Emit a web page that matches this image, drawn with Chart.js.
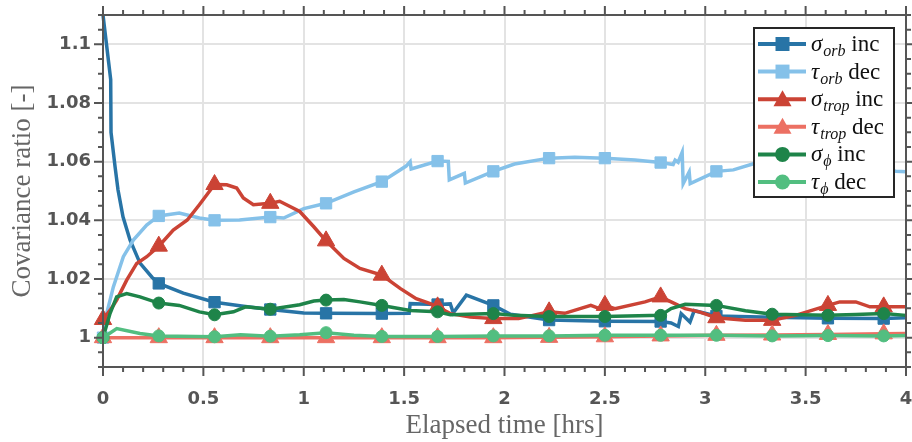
<!DOCTYPE html>
<html>
<head>
<meta charset="utf-8">
<script src="https://cdn.jsdelivr.net/npm/chart.js@4.4.1/dist/chart.umd.min.js"></script>
<style>
html,body{margin:0;padding:0;background:#fff;}
#wrap{width:912px;height:442px;}
</style>
</head>
<body>
<div id="wrap"><canvas id="c" width="912" height="442"></canvas></div>
<script>
// ---------- data ----------
const markerTimes = [0, 0.2778, 0.5556, 0.8333, 1.1111, 1.3889, 1.6667, 1.9444, 2.2222, 2.5, 2.7778, 3.0556, 3.3333, 3.6111, 3.8889];

const xTicks = [0, 0.5, 1, 1.5, 2, 2.5, 3, 3.5, 4];
const xTickLabels = ['0', '0.5', '1', '1.5', '2', '2.5', '3', '3.5', '4'];
const yTicks = [1, 1.02, 1.04, 1.06, 1.08, 1.1];
const yTickLabels = ['1', '1.02', '1.04', '1.06', '1.08', '1.1'];

// sigma_orb inc
const orbIncT = [0, 0.0383, 0.040, 0.060, 0.0747, 0.0996, 0.1345, 0.1843, 0.244, 0.2778, 0.40, 0.5556, 0.70, 0.8333, 1.0, 1.1111, 1.3889, 1.525, 1.530, 1.6667, 1.73, 1.745, 1.81, 1.9444, 2.03, 2.2222, 2.5, 2.7778, 2.83, 2.866, 2.88, 2.924, 2.945, 3.0556, 3.3333, 3.6111, 3.8889, 4.0];
const orbIncV = [1.110, 1.088, 1.070, 1.0583, 1.0504, 1.0412, 1.0333, 1.0254, 1.0206, 1.0185, 1.0152, 1.0121, 1.0107, 1.0096, 1.0084, 1.0083, 1.0082, 1.0083, 1.0116, 1.0113, 1.0115, 1.0085, 1.0145, 1.0110, 1.0080, 1.0060, 1.0056, 1.0055, 1.0050, 1.0038, 1.0082, 1.0053, 1.0092, 1.0074, 1.0070, 1.0066, 1.0065, 1.0068];

// tau_orb dec
const orbDecT = [0, 0.0183, 0.0515, 0.1013, 0.1511, 0.2175, 0.2778, 0.38, 0.48, 0.5556, 0.68, 0.8333, 0.90, 1.0, 1.1111, 1.25, 1.3889, 1.51, 1.53, 1.535, 1.6667, 1.72, 1.725, 1.80, 1.805, 1.9444, 2.05, 2.2222, 2.35, 2.5, 2.65, 2.7778, 2.84, 2.85, 2.865, 2.885, 2.89, 2.92, 2.925, 3.0556, 3.14, 3.24, 3.3333, 3.6111, 3.8889, 3.95, 4.0];
const orbDecV = [1.000, 1.0082, 1.0173, 1.0276, 1.0333, 1.0384, 1.0415, 1.0425, 1.0408, 1.0400, 1.0401, 1.0411, 1.0408, 1.0440, 1.0458, 1.0497, 1.0532, 1.0585, 1.0600, 1.0575, 1.0602, 1.0601, 1.0538, 1.0560, 1.0527, 1.0567, 1.0592, 1.0612, 1.0615, 1.0612, 1.0606, 1.0597, 1.0590, 1.0605, 1.0598, 1.0632, 1.0525, 1.0565, 1.0525, 1.0567, 1.0572, 1.0593, 1.0600, 1.0590, 1.0572, 1.0567, 1.0566];

// sigma_trop inc
const tropIncT = [0, 0.035, 0.068, 0.118, 0.168, 0.218, 0.2778, 0.35, 0.42, 0.48, 0.5556, 0.6163, 0.666, 0.699, 0.749, 0.8333, 0.88, 0.98, 1.05, 1.1111, 1.20, 1.28, 1.3889, 1.48, 1.56, 1.63, 1.6667, 1.73, 1.83, 1.9444, 2.07, 2.2222, 2.30, 2.43, 2.47, 2.5, 2.55, 2.70, 2.7778, 2.83, 2.90, 2.97, 3.0556, 3.20, 3.3333, 3.45, 3.6111, 3.67, 3.75, 3.82, 3.8889, 4.0];
const tropIncV = [1.0062, 1.0093, 1.0128, 1.0196, 1.0253, 1.0276, 1.0312, 1.0367, 1.0401, 1.0453, 1.0522, 1.0521, 1.0510, 1.0476, 1.0453, 1.0458, 1.0465, 1.0430, 1.0378, 1.0330, 1.0270, 1.0236, 1.0213, 1.0168, 1.0133, 1.0116, 1.0105, 1.0082, 1.0070, 1.0065, 1.0065, 1.0088, 1.0083, 1.0110, 1.0100, 1.0110, 1.0099, 1.0122, 1.0139, 1.0122, 1.0099, 1.0088, 1.0068, 1.0059, 1.0059, 1.0076, 1.0110, 1.0122, 1.0122, 1.0105, 1.0105, 1.0105];

// tau_trop dec
const tropDecT = [0, 0.2778, 0.5556, 0.8333, 1.1111, 1.3889, 1.6667, 1.9444, 2.2222, 2.5, 2.7778, 3.0556, 3.3333, 3.6111, 3.8889, 4.0];
const tropDecV = [1.0000, 1.0000, 1.0000, 1.0000, 1.0000, 1.0000, 1.0000, 1.0000, 1.0001, 1.0003, 1.0006, 1.0008, 1.0009, 1.0011, 1.0013, 1.0014];

// sigma_phi inc
const phiIncT = [0, 0.0349, 0.0681, 0.1179, 0.1843, 0.2778, 0.38, 0.48, 0.5556, 0.65, 0.71, 0.8333, 0.98, 1.05, 1.1111, 1.20, 1.28, 1.3889, 1.53, 1.6667, 1.73, 1.9444, 2.05, 2.2222, 2.5, 2.7778, 2.83, 2.90, 3.0556, 3.20, 3.3333, 3.6111, 3.75, 3.8889, 4.0];
const phiIncV = [1.0000, 1.0082, 1.0139, 1.0150, 1.0139, 1.0118, 1.0110, 1.0088, 1.0078, 1.0088, 1.0105, 1.0097, 1.0112, 1.0125, 1.0128, 1.0130, 1.0122, 1.0110, 1.0093, 1.0088, 1.0078, 1.0082, 1.0076, 1.0072, 1.0072, 1.0076, 1.0099, 1.0114, 1.0110, 1.0092, 1.0080, 1.0076, 1.0079, 1.0082, 1.0076];

// tau_phi dec
const phiDecT = [0, 0.0685, 0.1843, 0.2778, 0.5556, 0.6850, 0.8333, 0.98, 1.1111, 1.25, 1.3889, 1.6667, 1.9444, 2.2222, 2.5, 2.7778, 3.0556, 3.3333, 3.6111, 3.8889, 4.0];
const phiDecV = [1.0000, 1.0031, 1.0014, 1.0006, 1.0003, 1.0010, 1.0005, 1.0010, 1.0017, 1.0008, 1.0004, 1.0004, 1.0006, 1.0006, 1.0008, 1.0008, 1.0008, 1.0006, 1.0007, 1.0006, 1.0007];

const X_MIN = 0, X_MAX = 4, Y_MIN = 0.99, Y_MAX = 1.11;

// ---------- styles ----------
const series = [
  {greek: 'σ', sub: 'orb', word: 'inc', t: orbIncT, v: orbIncV, color: '#2874A6', style: 'rect', r: 8},
  {greek: 'τ', sub: 'orb', word: 'dec', t: orbDecT, v: orbDecV, color: '#85C1E9', style: 'rect', r: 8},
  {greek: 'σ', sub: 'trop', word: 'inc', t: tropIncT, v: tropIncV, color: '#CB4335', style: 'triangle', r: 10},
  {greek: 'τ', sub: 'trop', word: 'dec', t: tropDecT, v: tropDecV, color: '#EC7063', style: 'triangle', r: 10},
  {greek: 'σ', sub: 'ϕ', word: 'inc', t: phiIncT, v: phiIncV, color: '#1E8449', style: 'circle', r: 6},
  {greek: 'τ', sub: 'ϕ', word: 'dec', t: phiDecT, v: phiDecV, color: '#52BE80', style: 'circle', r: 6}
];

function isMarker(p) {
  if (!p) return false;
  if (p.y >= Y_MAX || p.y <= Y_MIN) return false;
  return markerTimes.some(m => Math.abs(m - p.x) < 1e-3);
}

const datasets = series.map((s, i) => ({
  label: s.greek + s.sub + ' ' + s.word,
  data: s.t.map((t, k) => ({x: t, y: s.v[k]})),
  borderColor: s.color,
  backgroundColor: s.color,
  borderWidth: 3.5,
  pointStyle: s.style,
  pointBackgroundColor: s.color,
  pointBorderColor: s.color,
  pointBorderWidth: 1,
  pointRadius: ctx => isMarker(ctx.raw) ? s.r : 0,
  pointHoverRadius: 0,
  tension: 0,
  fill: false,
  clip: 12,
  order: series.length - i
}));

// ---------- plugins ----------
const boxPlugin = {
  id: 'boxAndLegend',
  afterDatasetsDraw(chart) {
    const {ctx, chartArea: a, scales: {x, y}} = chart;
    ctx.save();
    // axis box
    ctx.strokeStyle = '#555555';
    ctx.lineWidth = 2;
    ctx.strokeRect(a.left, a.top, a.right - a.left, a.bottom - a.top);
    // ticks (outward on all four sides)
    ctx.beginPath();
    for (let k = 0; k <= 40; k++) {
      const v = k * 0.1;
      const px = x.getPixelForValue(v);
      const len = (k % 5 === 0) ? 9 : 5;
      ctx.moveTo(px, a.bottom); ctx.lineTo(px, a.bottom + len);
      ctx.moveTo(px, a.top); ctx.lineTo(px, a.top - len);
    }
    for (let k = 0; k <= 24; k++) {
      const v = 0.99 + k * 0.005;
      const py = y.getPixelForValue(v);
      const major = (k % 4 === 2);
      const len = major ? 9 : 5;
      ctx.moveTo(a.left, py); ctx.lineTo(a.left - len, py);
      ctx.moveTo(a.right, py); ctx.lineTo(a.right + len, py);
    }
    ctx.stroke();

    // legend
    const w = 140, h = 169;
    const L = a.right - 12 - w, T = a.top + 13;
    ctx.fillStyle = '#ffffff';
    ctx.fillRect(L, T, w, h);
    ctx.strokeStyle = '#262626';
    ctx.lineWidth = 2;
    ctx.strokeRect(L, T, w, h);
    series.forEach((s, i) => {
      const cy = T + 16 + i * 27.6;
      ctx.strokeStyle = s.color;
      ctx.lineWidth = 4;
      ctx.beginPath();
      ctx.moveTo(L + 4, cy); ctx.lineTo(L + 52, cy);
      ctx.stroke();
      const mx = L + 28.5;
      ctx.fillStyle = s.color;
      ctx.beginPath();
      if (s.style === 'rect') {
        ctx.rect(mx - 7, cy - 7, 14, 14);
      } else if (s.style === 'triangle') {
        ctx.moveTo(mx, cy - 9); ctx.lineTo(mx + 9, cy + 7); ctx.lineTo(mx - 9, cy + 7); ctx.closePath();
      } else {
        ctx.arc(mx, cy, 7.5, 0, Math.PI * 2);
      }
      ctx.fill();
      // text
      ctx.fillStyle = '#111111';
      ctx.textBaseline = 'alphabetic';
      ctx.textAlign = 'left';
      let tx = L + 57;
      const base = cy + 7;
      ctx.font = 'italic 23px "Liberation Serif", serif';
      ctx.fillText(s.greek, tx, base);
      tx += ctx.measureText(s.greek).width + 1;
      ctx.font = 'italic 16px "Liberation Serif", serif';
      ctx.fillText(s.sub, tx, base + 5);
      tx += ctx.measureText(s.sub).width;
      ctx.font = '23px "Liberation Serif", serif';
      ctx.fillText(' ' + s.word, tx, base);
    });
    ctx.restore();
  }
};

// ---------- chart ----------
const tickFont = {family: '"DejaVu Sans", sans-serif', size: 18, weight: 'bold'};
const titleFont = {family: '"Liberation Serif", serif', size: 27, weight: 'normal'};
const zeroPad = () => ({left: 0, right: 0, top: 0, bottom: 0});

new Chart(document.getElementById('c'), {
  type: 'line',
  data: {datasets},
  plugins: [boxPlugin],
  options: {
    responsive: false,
    animation: false,
    events: [],
    layout: {autoPadding: false, padding: {top: 15, right: 6, left: 0, bottom: 0}},
    plugins: {legend: {display: false}, tooltip: {enabled: false}, title: {display: false}},
    scales: {
      x: {
        type: 'linear', min: X_MIN, max: X_MAX,
        afterFit: s => { s.height = 75; s.paddingLeft = 0; s.paddingRight = 0; s.getPadding = zeroPad; },
        afterBuildTicks: s => { s.ticks = xTicks.map(v => ({value: v})); },
        ticks: {callback: (v, i) => xTickLabels[i], font: tickFont, color: '#555555', padding: 22, maxRotation: 0, autoSkip: false},
        grid: {color: '#e3e3e3', lineWidth: 2, drawTicks: false},
        border: {display: false},
        title: {display: true, text: 'Elapsed time [hrs]', font: titleFont, color: '#666666', padding: {top: 0, bottom: 0}}
      },
      y: {
        type: 'linear', min: Y_MIN, max: Y_MAX,
        afterFit: s => { s.width = 103; s.paddingTop = 0; s.paddingBottom = 0; s.getPadding = zeroPad; },
        afterBuildTicks: s => { s.ticks = yTicks.map(v => ({value: v})); },
        ticks: {callback: (v, i) => yTickLabels[i], font: tickFont, color: '#555555', padding: 12, autoSkip: false},
        grid: {color: '#e3e3e3', lineWidth: 2, drawTicks: false},
        border: {display: false},
        title: {display: true, text: 'Covariance ratio [-]', font: titleFont, color: '#666666', padding: {top: 7, bottom: 0}}
      }
    }
  }
});
</script>
</body>
</html>
